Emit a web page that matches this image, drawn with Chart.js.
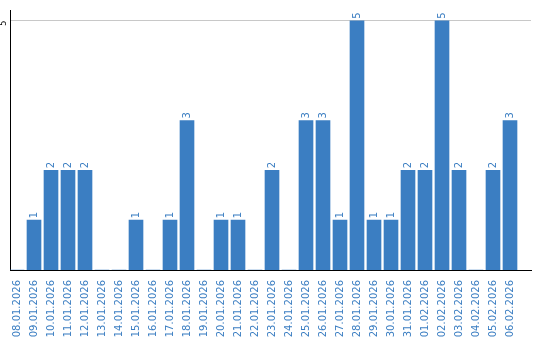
<!DOCTYPE html>
<html>
<head>
<meta charset="utf-8">
<script src="https://cdn.jsdelivr.net/npm/chart.js@4/dist/chart.umd.min.js"></script>
<style>
  html, body { margin: 0; padding: 0; background: #fff; }
  #wrap { width: 540px; height: 340px; }
</style>
</head>
<body>
<div id="wrap"><canvas id="chart"></canvas></div>
<script>
// dates on the x axis
const dates = [
    "08.01.2026", "09.01.2026", "10.01.2026", "11.01.2026", "12.01.2026",
    "13.01.2026", "14.01.2026", "15.01.2026", "16.01.2026", "17.01.2026",
    "18.01.2026", "19.01.2026", "20.01.2026", "21.01.2026", "22.01.2026",
    "23.01.2026", "24.01.2026", "25.01.2026", "26.01.2026", "27.01.2026",
    "28.01.2026", "29.01.2026", "30.01.2026", "31.01.2026", "01.02.2026",
    "02.02.2026", "03.02.2026", "04.02.2026", "05.02.2026", "06.02.2026"
];
const counts = [0, 1, 2, 2, 2, 0, 0, 1, 0, 1, 3, 0, 1, 1, 0, 2, 0, 3, 3, 1, 5, 1, 1, 2, 2, 5, 2, 0, 2, 3];
const yTicks = [5];

const blue = '#3b7ec2';

// zahl oben auf jedem balken, gedreht
const barLabels = {
    id: 'barLabels',
    afterDatasetsDraw(chart) {
        const ctx = chart.ctx;
        const meta = chart.getDatasetMeta(0);
        ctx.save();
        ctx.fillStyle = blue;
        ctx.font = '10px "DejaVu Sans"';
        ctx.textAlign = 'left';
        ctx.textBaseline = 'middle';
        meta.data.forEach((bar, i) => {
            const v = counts[i];
            if (!v) return;
            ctx.save();
            ctx.translate(bar.x, bar.y - 2);
            ctx.rotate(-Math.PI / 2);
            ctx.fillText(String(v), 0, 0);
            ctx.restore();
        });
        ctx.restore();
    }
};

new Chart(document.getElementById('chart'), {
    type: 'bar',
    data: {
        datasets: [{
            data: counts.map((v, i) => ({ x: i, y: v })),
            backgroundColor: blue,
            borderWidth: 0,
            barThickness: 14
        }]
    },
    options: {
        responsive: true,
        maintainAspectRatio: false,
        animation: false,
        layout: { padding: { top: 10, right: 9, left: 0, bottom: 0 } },
        plugins: { legend: { display: false }, tooltip: { enabled: false } },
        scales: {
            x: {
                type: 'linear',
                offset: false,
                min: -7 / 17,
                max: 514 / 17,
                afterBuildTicks: (scale) => { scale.ticks = dates.map((_, i) => ({ value: i })); },
                afterFit: (scale) => { scale.height = 70; },
                grid: { display: false },
                border: { display: true, color: '#000', width: 1 },
                ticks: {
                    autoSkip: false,
                    minRotation: 90,
                    maxRotation: 90,
                    padding: 2,
                    color: blue,
                    font: { family: 'DejaVu Sans', size: 10 },
                    callback: (v) => dates[v] ?? ''
                }
            },
            y: {
                min: 0,
                max: 5.2,
                afterBuildTicks: (scale) => { scale.ticks = yTicks.map(v => ({ value: v })); },
                afterFit: (scale) => { scale.width = 10; },
                grid: { color: '#c8c8c8', drawTicks: false },
                border: { display: true, color: '#000', width: 1 },
                ticks: {
                    minRotation: 90,
                    maxRotation: 90,
                    padding: 6,
                    color: '#000',
                    font: { family: 'DejaVu Sans', size: 8 }
                }
            }
        }
    },
    plugins: [barLabels]
});
</script>
</body>
</html>
